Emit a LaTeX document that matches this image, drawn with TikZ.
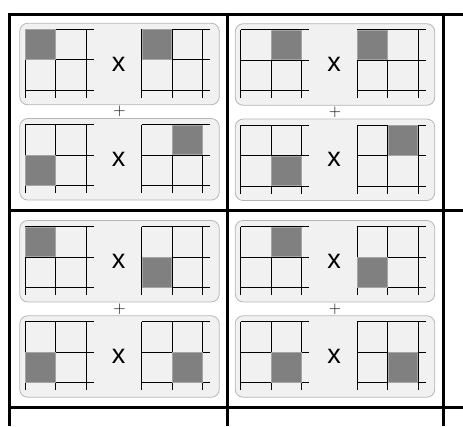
\documentclass[tikz,border=0pt]{standalone}
\usepackage{fontspec}
\setsansfont{Liberation Sans}
\usetikzlibrary{positioning, calc}
\definecolor{Cpanel}{RGB}{241,241,241}
\definecolor{Cpbdr}{RGB}{182,182,182}
\definecolor{Csq}{RGB}{128,128,128}
\definecolor{Csqbdr}{RGB}{165,165,165}
\tikzset{
  tbl/.style={line width=3pt, color=black},
  panel/.style={
    draw=Cpbdr, fill=Cpanel, rounded corners=8pt, line width=0.8pt,
    minimum width=199.5pt, minimum height=81.5pt, inner sep=0pt
  },
  times/.style={font=\sffamily\fontsize{27}{27}\selectfont, inner sep=0pt},
  plus/.style={font=\rmfamily\fontsize{17}{17}\selectfont, inner sep=0pt},
  % 3x3 grid, gray cell at (row #1, col #2)
  pics/mat/.style 2 args={code={
    \draw[line width=1.1pt]
      (0,0) -- (68.5,0) (0,30.5) -- (68.5,30.5) (0,61) -- (68.5,61)
      (0,0) -- (0,68.5) (30.5,0) -- (30.5,68.5) (61,0) -- (61,68.5);
    \filldraw[fill=Csq, draw=Csqbdr, line width=0.8pt]
      ({#2*30.5+0.5},{#1*30.5+0.5}) rectangle ({#2*30.5+30},{#1*30.5+30});
  }}
}

\begin{document}
\begin{tikzpicture}[x=1pt, y=-1pt]
\useasboundingbox (0,0) rectangle (463,426);

% ─────────────────────────────────────────────────────────────────────────────
%  TABLE
% ─────────────────────────────────────────────────────────────────────────────
\draw[tbl] (7.5,14) -- (463,14);
\draw[tbl] (7.5,210) -- (463,210);
\draw[tbl] (7.5,407) -- (463,407);
\draw[tbl] (9,12.5) -- (9,426);
\draw[tbl] (227,12.5) -- (227,426);
\draw[tbl] (443.5,12.5) -- (443.5,426);

% ─────────────────────────────────────────────────────────────────────────────
%  PANELS
% ─────────────────────────────────────────────────────────────────────────────
\node[panel] (pA1) at (119.5,64) {};
\node[panel, below=13pt of pA1] (pA2) {};
\node[panel] (pB1) at (335,64.5) {};
\node[panel, below=13pt of pB1] (pB2) {};
\node[panel] (pC1) at (119.5,261.2) {};
\node[panel, below=13pt of pC1] (pC2) {};
\node[panel] (pD1) at (335,261.2) {};
\node[panel, below=13pt of pD1] (pD2) {};

% ─────────────────────────────────────────────────────────────────────────────
%  GRIDS  (left factor, right factor)
% ─────────────────────────────────────────────────────────────────────────────
\pic at ([shift={(6,6.5)}]pA1.north west)   {mat={0}{0}};
\pic at ([shift={(122.5,6.5)}]pA1.north west) {mat={0}{0}};
\pic at ([shift={(6,6.5)}]pA2.north west)   {mat={1}{0}};
\pic at ([shift={(122.5,6.5)}]pA2.north west) {mat={0}{1}};

\pic at ([shift={(6,6.5)}]pB1.north west)   {mat={0}{1}};
\pic at ([shift={(122.5,6.5)}]pB1.north west) {mat={0}{0}};
\pic at ([shift={(6,6.5)}]pB2.north west)   {mat={1}{1}};
\pic at ([shift={(122.5,6.5)}]pB2.north west) {mat={0}{1}};

\pic at ([shift={(6,6.5)}]pC1.north west)   {mat={0}{0}};
\pic at ([shift={(122.5,6.5)}]pC1.north west) {mat={1}{0}};
\pic at ([shift={(6,6.5)}]pC2.north west)   {mat={1}{0}};
\pic at ([shift={(122.5,6.5)}]pC2.north west) {mat={1}{1}};

\pic at ([shift={(6,6.5)}]pD1.north west)   {mat={0}{1}};
\pic at ([shift={(122.5,6.5)}]pD1.north west) {mat={1}{0}};
\pic at ([shift={(6,6.5)}]pD2.north west)   {mat={1}{1}};
\pic at ([shift={(122.5,6.5)}]pD2.north west) {mat={1}{1}};

% ─────────────────────────────────────────────────────────────────────────────
%  SIGNS
% ─────────────────────────────────────────────────────────────────────────────
\node[times] (xA1) at ([xshift=-1pt]pA1.center) {x};
\node[times] (xA2) at ([xshift=-1pt]pA2.center) {x};
\node[times] (xB1) at ([xshift=-1pt]pB1.center) {x};
\node[times] (xB2) at ([xshift=-1pt]pB2.center) {x};
\node[times] (xC1) at ([xshift=-1pt]pC1.center) {x};
\node[times] (xC2) at ([xshift=-1pt]pC2.center) {x};
\node[times] (xD1) at ([xshift=-1pt]pD1.center) {x};
\node[times] (xD2) at ([xshift=-1pt]pD2.center) {x};

\node[plus] (sA) at ($(pA1.south)!0.5!(pA2.north)$) {+};
\node[plus] (sB) at ($(pB1.south)!0.5!(pB2.north)$) {+};
\node[plus] (sC) at ($(pC1.south)!0.5!(pC2.north)$) {+};
\node[plus] (sD) at ($(pD1.south)!0.5!(pD2.north)$) {+};

\end{tikzpicture}
\end{document}
